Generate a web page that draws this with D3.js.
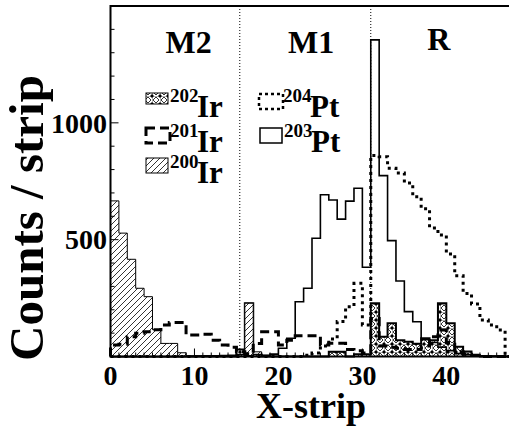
<!DOCTYPE html>
<html>
<head>
<meta charset="utf-8">
<script src="https://cdn.jsdelivr.net/npm/d3@7"></script>
<style>
  body { margin: 0; background: #fff; }
  text { font-family: "Liberation Serif", "Times New Roman", serif; font-weight: bold; }
</style>
</head>
<body>
<div class="canvas"></div>
<script>
// counts per strip, bin i covers [i, i+1]
const ir202 = [0,0,0,0,0,0,0,0,0,0, 0,0,0,0,0,30,228,8,0,0, 0,0,0,0,0,0,20,20,0,10,
               10,228,85,142,70,63,55,78,70,228, 142,42,21,5,0,0,0,0]
const ir201 = [49,52,85,99,106,115,135,145,145,92, 92,95,70,49,40,20,12,56,106,106,
               49,70,89,89,89,49,57,57,30,25, 15,163,45,40,35,30,30,45,85,113, 60,20,10,5,0,0,0,0]
const ir200 = [666,528,416,292,256,115,56,56,16,3, 2,0,0,0,0,0,228,20,5,0,
               0,0,0,0,0,0,0,0,0,0, 0,0,0,0,0,0,0,0,0,0, 0,0,0,0,0,0,0,0]
const pt204 = [0,0,0,0,0,0,0,0,0,0, 0,0,0,0,0,0,0,0,0,0, 0,0,0,5,15,45,75,150,213,313,
               135,860,855,806,785,743,684,632,550,520, 439,346,270,225,156,135,113,0]
const pt203 = [0,0,0,0,0,0,0,0,0,0, 2,3,3,4,5,8,3,8,5,10, 35,78,234,292,506,692,670,588,665,720,
               382,1355,774,496,323,192,149,72,60,40, 25,12,8,5,3,2,0,0]

const xTicks = [0, 10, 20, 30, 40]
const yTicks = [500, 1000]
const regions = [{name: 'M2', x: 9.3}, {name: 'M1', x: 23.9}, {name: 'R', x: 39.1}]
const borders = [15.4, 31.0]

const svg = d3.select(".canvas").append('svg')
    .attr('width', 509)
    .attr('height', 430)

const x = d3.scaleLinear().domain([0, 48]).range([110.5, 513.5])
const y = d3.scaleLinear().domain([0, 1500]).range([356.5, 6])

// fill patterns
const defs = svg.append('defs')
const hatch = defs.append('pattern')
    .attr('id', 'hatch')
    .attr('patternUnits', 'userSpaceOnUse')
    .attr('width', 6).attr('height', 6)
hatch.append('rect').attr('width', 6).attr('height', 6).attr('fill', '#fff')
hatch.append('path')
    .attr('d', 'M-1,1 l2,-2 M0,6 l6,-6 M5,7 l2,-2')
    .attr('stroke', '#000').attr('stroke-width', 0.8)

const diam = defs.append('pattern')
    .attr('id', 'diam')
    .attr('patternUnits', 'userSpaceOnUse')
    .attr('width', 8).attr('height', 8)
diam.append('rect').attr('width', 8).attr('height', 8).attr('fill', '#fff')
diam.append('path')
    .attr('d', 'M4,1 L7,4 L4,7 L1,4Z')
    .attr('fill', 'none').attr('stroke', '#000').attr('stroke-width', 0.8)
diam.append('path')
    .attr('d', 'M0,0 L2,0 L0,2Z M8,0 L6,0 L8,2Z M0,8 L2,8 L0,6Z M8,8 L6,8 L8,6Z')
    .attr('fill', '#000')
diam.append('path')
    .attr('d', 'M0,0 H8 M0,0 V8')
    .attr('stroke', '#000').attr('stroke-width', 0.6)

function steps(vals) {
    const pts = [[0, 0]]
    vals.forEach((v, i) => { pts.push([i, v]); pts.push([i + 1, v]) })
    pts.push([vals.length, 0])
    return pts
}
const line = d3.line().x(d => x(d[0])).y(d => y(d[1]))

const plot = svg.append('g')

plot.append('path').attr('d', line(steps(ir202)))
    .attr('fill', 'url(#diam)').attr('stroke', '#000').attr('stroke-width', 2)
plot.append('path').attr('d', line(steps(ir200)))
    .attr('fill', 'url(#hatch)').attr('stroke', '#000').attr('stroke-width', 1)
plot.append('path').attr('d', line(steps(ir201)))
    .attr('fill', 'none').attr('stroke', '#000').attr('stroke-width', 3)
    .attr('stroke-dasharray', '9,5')
plot.append('path').attr('d', line(steps(pt204)))
    .attr('fill', 'none').attr('stroke', '#000').attr('stroke-width', 3)
    .attr('stroke-dasharray', '3,4')
plot.append('path').attr('d', line(steps(pt203)))
    .attr('fill', 'none').attr('stroke', '#000').attr('stroke-width', 1.6)

// region borders
svg.selectAll('.border').data(borders).enter().append('line')
    .attr('x1', d => x(d)).attr('x2', d => x(d))
    .attr('y1', y(1500)).attr('y2', y(0))
    .attr('stroke', '#000').attr('stroke-width', 1)
    .attr('stroke-dasharray', '1,2')

svg.selectAll('.region').data(regions).enter().append('text')
    .attr('x', d => x(d.x))
    .attr('y', d => d.name === 'R' ? 50 : 53)
    .attr('text-anchor', 'middle')
    .attr('font-size', 32)
    .text(d => d.name)

// frame
svg.append('path')
    .attr('d', `M${x(48)},${y(1500)} H${x(0)} V${y(0)} H${x(48)}`)
    .attr('fill', 'none').attr('stroke', '#000').attr('stroke-width', 2)

// ticks (inside)
svg.selectAll('.ytick').data(d3.range(100, 1500, 100)).enter().append('line')
    .attr('x1', x(0)).attr('x2', d => x(0) + (d % 500 === 0 ? 8 : 4))
    .attr('y1', d => y(d)).attr('y2', d => y(d))
    .attr('stroke', '#000').attr('stroke-width', 1)
svg.selectAll('.xtick').data(d3.range(1, 48)).enter().append('line')
    .attr('x1', d => x(d)).attr('x2', d => x(d))
    .attr('y1', y(0)).attr('y2', d => y(0) - (d % 10 === 0 ? 8 : 4))
    .attr('stroke', '#000').attr('stroke-width', 1)

svg.selectAll('.ylab').data(yTicks).enter().append('text')
    .attr('x', 107).attr('y', d => y(d)).attr('dy', '0.35em')
    .attr('text-anchor', 'end').attr('font-size', 28)
    .text(d => d)
svg.selectAll('.xlab').data(xTicks).enter().append('text')
    .attr('x', d => x(d)).attr('y', 385)
    .attr('text-anchor', 'middle').attr('font-size', 28)
    .text(d => d)

svg.append('text')
    .attr('x', 311).attr('y', 418)
    .attr('text-anchor', 'middle').attr('font-size', 36)
    .text('X-strip')
svg.append('text')
    .attr('transform', 'translate(43,218) rotate(-90)')
    .attr('text-anchor', 'middle').attr('font-size', 49)
    .text('Counts / strip')

// legend
const legend = [
    {sup: '202', el: 'Ir', x: 146, y: 93, w: 22, h: 11, fill: 'url(#diam)', sw: 1, dash: null, base: 117},
    {sup: '201', el: 'Ir', x: 146, y: 128, w: 24, h: 15, fill: 'none', sw: 3, dash: '9,5', base: 151.5},
    {sup: '200', el: 'Ir', x: 146, y: 158, w: 22, h: 15, fill: 'url(#hatch)', sw: 1, dash: null, base: 183},
    {sup: '204', el: 'Pt', x: 259, y: 94, w: 24, h: 15, fill: 'none', sw: 2.5, dash: '3,3', base: 117},
    {sup: '203', el: 'Pt', x: 260, y: 128, w: 22, h: 15, fill: 'none', sw: 1.5, dash: null, base: 151.5}
]
const lg = svg.selectAll('.leg').data(legend).enter().append('g')
lg.append('rect')
    .attr('x', d => d.x).attr('y', d => d.y)
    .attr('width', d => d.w).attr('height', d => d.h)
    .attr('fill', d => d.fill === 'none' ? '#fff' : d.fill)
    .attr('stroke', '#000').attr('stroke-width', d => d.sw)
    .attr('stroke-dasharray', d => d.dash)
lg.append('text')
    .attr('x', d => d.x + 24).attr('y', d => d.base - 15)
    .attr('font-size', 19)
    .text(d => d.sup)
lg.append('text')
    .attr('x', d => d.x + 51).attr('y', d => d.base)
    .attr('font-size', 31)
    .text(d => d.el)
</script>
</body>
</html>
